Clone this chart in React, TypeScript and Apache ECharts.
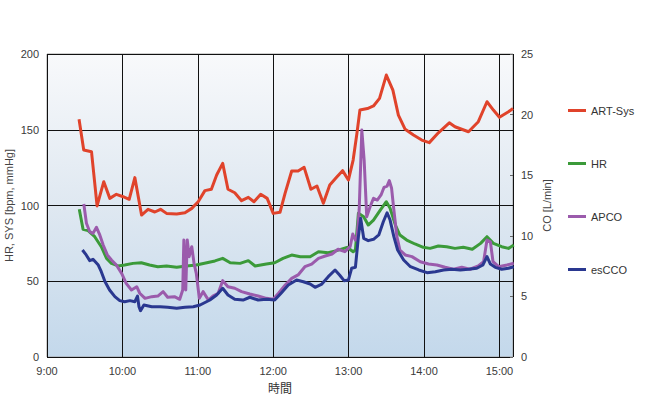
import React, { useEffect, useRef } from "react";
import * as echarts from "echarts";

// time in decimal hours (9.5 = 9:30)
const sysTime = [9.425, 9.487, 9.59, 9.664, 9.753, 9.833, 9.92, 10.01, 10.09, 10.165, 10.254, 10.34, 10.43, 10.506, 10.585, 10.72, 10.83, 10.92, 11.005, 11.094, 11.18, 11.25, 11.33, 11.4, 11.49, 11.58, 11.67, 11.745, 11.834, 11.92, 12.0, 12.09, 12.157, 12.245, 12.33, 12.41, 12.5, 12.58, 12.665, 12.75, 12.84, 12.92, 12.997, 13.06, 13.11, 13.15, 13.25, 13.33, 13.41, 13.5, 13.587, 13.66, 13.75, 13.86, 13.97, 14.07, 14.19, 14.335, 14.41, 14.59, 14.72, 14.835, 14.92, 15.0, 15.12, 15.18];
const sysValues = [156.9, 136.6, 135.5, 99.7, 115.7, 104.7, 107.4, 105.8, 104.1, 118.4, 93.7, 97.5, 95.7, 97.5, 94.8, 94.4, 95.2, 98.1, 102.5, 109.8, 110.7, 120.1, 127.8, 110.7, 108.4, 103.2, 105.4, 102.5, 107.4, 104.7, 94.8, 95.5, 108, 122.8, 122.8, 125.2, 110.7, 112.9, 101.5, 113.5, 118.6, 123, 116.8, 130, 147.5, 163, 164, 165.7, 170.7, 186.1, 176.2, 159.7, 150.3, 146.5, 143.2, 141.5, 148, 154.6, 152, 148.7, 155.3, 168.5, 163, 158.2, 161.9, 164];

const hrTime = [9.428, 9.478, 9.545, 9.633, 9.72, 9.79, 9.855, 9.943, 10.03, 10.14, 10.25, 10.36, 10.47, 10.585, 10.72, 10.85, 10.98, 11.12, 11.227, 11.33, 11.43, 11.56, 11.67, 11.76, 11.91, 12.02, 12.13, 12.245, 12.36, 12.49, 12.6, 12.73, 12.84, 12.98, 13.06, 13.09, 13.13, 13.2, 13.26, 13.33, 13.42, 13.5, 13.55, 13.62, 13.68, 13.77, 13.88, 13.99, 14.08, 14.19, 14.3, 14.41, 14.52, 14.64, 14.75, 14.835, 14.92, 15.03, 15.12, 15.19];
const hrValues = [97.5, 84.3, 83.4, 79.4, 72.8, 65.1, 61.8, 60.1, 60.7, 61.8, 62.2, 60.7, 59.6, 60.1, 59.2, 60.1, 60.7, 62.2, 63.4, 65.1, 62.2, 61.8, 63.6, 60.1, 61.4, 62.2, 65.1, 67.3, 66.2, 66.2, 69.5, 68.8, 70.2, 72.4, 69.5, 70.6, 94.9, 92.6, 87.1, 90.4, 97, 102.5, 98.2, 87.1, 80.5, 77.2, 74.6, 72.4, 71.7, 73.3, 72.8, 71.7, 72.4, 71.1, 75, 79.4, 75, 72.8, 71.7, 73.9];

const apcoTime = [9.488, 9.523, 9.567, 9.61, 9.656, 9.7, 9.745, 9.8, 9.855, 9.92, 9.99, 10.05, 10.12, 10.19, 10.23, 10.3, 10.39, 10.47, 10.54, 10.6, 10.69, 10.76, 10.8, 10.815, 10.84, 10.86, 10.885, 10.92, 10.95, 10.98, 11.02, 11.07, 11.14, 11.2, 11.27, 11.33, 11.4, 11.49, 11.58, 11.69, 11.8, 11.91, 12.0, 12.07, 12.16, 12.245, 12.33, 12.42, 12.51, 12.6, 12.69, 12.78, 12.86, 12.95, 13.02, 13.055, 13.09, 13.11, 13.14, 13.175, 13.206, 13.24, 13.285, 13.33, 13.38, 13.43, 13.47, 13.51, 13.54, 13.57, 13.6, 13.64, 13.68, 13.75, 13.84, 13.95, 14.06, 14.17, 14.28, 14.39, 14.5, 14.61, 14.72, 14.79, 14.835, 14.88, 14.915, 14.99, 15.1, 15.19];
const apcoValues = [12.62, 11.03, 10.34, 10.2, 10.7, 10.07, 9.24, 8.42, 8.0, 7.59, 6.9, 6.08, 5.53, 5.8, 5.26, 4.84, 4.98, 5.03, 5.39, 4.93, 4.98, 4.76, 5.53, 9.65, 5.53, 9.65, 8.28, 9.1, 7.73, 6.9, 4.84, 5.39, 4.7, 5.03, 5.26, 6.3, 5.8, 5.67, 5.39, 5.2, 5.03, 4.84, 4.76, 5.26, 5.94, 6.49, 6.77, 7.45, 7.67, 8.14, 8.33, 8.5, 8.89, 8.69, 9.1, 10.15, 9.65, 9.65, 12.13, 18.73, 16.25, 11.58, 12.4, 13.1, 12.95, 13.37, 14.0, 14.1, 14.55, 13.92, 12.13, 9.93, 8.83, 8.42, 8.28, 7.86, 7.67, 7.59, 7.4, 7.24, 7.4, 7.24, 7.51, 7.86, 9.65, 9.51, 7.86, 7.45, 7.59, 7.73];

const esccoTime = [9.47, 9.52, 9.567, 9.61, 9.68, 9.72, 9.77, 9.83, 9.9, 9.965, 10.03, 10.1, 10.165, 10.2, 10.22, 10.24, 10.285, 10.39, 10.5, 10.6, 10.72, 10.83, 10.94, 11.03, 11.16, 11.25, 11.33, 11.4, 11.49, 11.6, 11.69, 11.8, 11.91, 12.02, 12.11, 12.2, 12.31, 12.4, 12.49, 12.555, 12.645, 12.73, 12.82, 12.88, 12.94, 12.997, 13.04, 13.09, 13.13, 13.16, 13.2, 13.26, 13.33, 13.4, 13.46, 13.51, 13.55, 13.6, 13.65, 13.73, 13.82, 13.93, 14.04, 14.15, 14.26, 14.37, 14.48, 14.59, 14.7, 14.78, 14.835, 14.88, 14.945, 15.03, 15.12, 15.19];
const esccoValues = [8.83, 8.42, 7.95, 8.06, 7.59, 7.04, 6.21, 5.53, 4.98, 4.65, 4.56, 4.65, 4.56, 5.03, 4.15, 3.82, 4.29, 4.15, 4.15, 4.1, 4.02, 4.1, 4.15, 4.29, 4.7, 5.12, 5.67, 5.12, 4.76, 4.7, 4.93, 4.7, 4.76, 4.7, 5.31, 5.94, 6.35, 6.21, 6.02, 5.75, 6.02, 6.63, 7.18, 6.77, 6.3, 6.35, 7.32, 7.4, 9.93, 11.44, 9.79, 9.6, 9.71, 10.07, 11.16, 11.9, 11.3, 9.93, 8.83, 8.0, 7.45, 7.18, 6.96, 7.04, 7.18, 7.24, 7.18, 7.24, 7.32, 7.59, 8.28, 7.67, 7.4, 7.24, 7.32, 7.45];

const seriesNames = ["ART-Sys", "HR", "APCO", "esCCO"];
const seriesColors = ["#e0432b", "#3b9a39", "#9b5bac", "#2a3890"];

const zip = (t: number[], v: number[]) => t.map((x, i) => [x, v[i]]);

export default function App() {
  const ref = useRef<HTMLDivElement>(null);
  useEffect(() => {
    if (!ref.current) return;
    const chart = echarts.init(ref.current, undefined, { renderer: "svg" });
    const font = "Liberation Sans";
    const lbl = { color: "#3a3a3a", fontSize: 11, fontFamily: font };
    const mk = (i: number, data: number[][], yIdx: number) => ({
      name: seriesNames[i],
      type: "line",
      yAxisIndex: yIdx,
      data,
      showSymbol: false,
      symbol: "none",
      lineStyle: { color: seriesColors[i], width: 3, join: "round" },
      itemStyle: { color: seriesColors[i] },
    });
    chart.setOption({
      animation: false,
      textStyle: { fontFamily: font },
      grid: {
        left: 47,
        right: 137,
        top: 54,
        bottom: 40,
        containLabel: false,
        outerBoundsMode: "none",
        show: true,
        borderColor: "#a0a0a0",
        borderWidth: 1,
        backgroundColor: new echarts.graphic.LinearGradient(0, 0, 0, 1, [
          { offset: 0, color: "#f8f9fb" },
          { offset: 0.5, color: "#dfe8f1" },
          { offset: 1, color: "#c3d8eb" },
        ]),
      },
      legend: {
        orient: "vertical",
        left: 563,
        top: 100,
        itemWidth: 18,
        itemHeight: 3,
        itemGap: 42,
        icon: "rect",
        textStyle: { color: "#333", fontSize: 11, fontFamily: font },
        data: seriesNames,
      },
      xAxis: {
        type: "value",
        min: 9,
        max: 15.18,
        interval: 1,
        name: "時間",
        nameLocation: "middle",
        nameGap: 24,
        nameMoveOverlap: false,
        nameTextStyle: { color: "#333", fontSize: 12, fontFamily: "Noto Sans CJK JP" },
        axisLine: { show: false },
        axisTick: { show: false },
        axisLabel: {
          ...lbl,
          margin: 8,
          showMaxLabel: false,
          formatter: (v: number) => (Number.isInteger(v) ? `${v}:00` : ""),
        },
        splitLine: { show: true, lineStyle: { color: "#111", width: 1 } },
      },
      yAxis: [
        {
          type: "value",
          min: 0,
          max: 200,
          interval: 50,
          position: "left",
          name: "HR, SYS [bpm, mmHg]",
          nameLocation: "middle",
          nameRotate: 90,
          nameGap: 33,
          nameMoveOverlap: false,
          nameTextStyle: { color: "#444", fontSize: 11, fontFamily: font },
          axisLine: { show: false },
          axisTick: { show: false },
          axisLabel: { ...lbl, margin: 8 },
          splitLine: { show: true, lineStyle: { color: "#111", width: 1 } },
        },
        {
          type: "value",
          min: 0,
          max: 25,
          interval: 5,
          position: "right",
          name: "CO [L/min]",
          nameLocation: "middle",
          nameRotate: 90,
          nameGap: 28,
          nameMoveOverlap: false,
          nameTextStyle: { color: "#444", fontSize: 11, fontFamily: font },
          axisLine: { show: false },
          axisTick: { show: true, inside: true, length: 3, lineStyle: { color: "#666" } },
          axisLabel: { ...lbl, margin: 8 },
          splitLine: { show: false },
        },
      ],
      series: [
        mk(0, zip(sysTime, sysValues), 0),
        mk(1, zip(hrTime, hrValues), 0),
        mk(2, zip(apcoTime, apcoValues), 1),
        mk(3, zip(esccoTime, esccoValues), 1),
      ],
    });
    return () => chart.dispose();
  }, []);
  return <div ref={ref} style={{ width: 650, height: 397, position: "absolute", left: 0, top: 0 }} />;
}
